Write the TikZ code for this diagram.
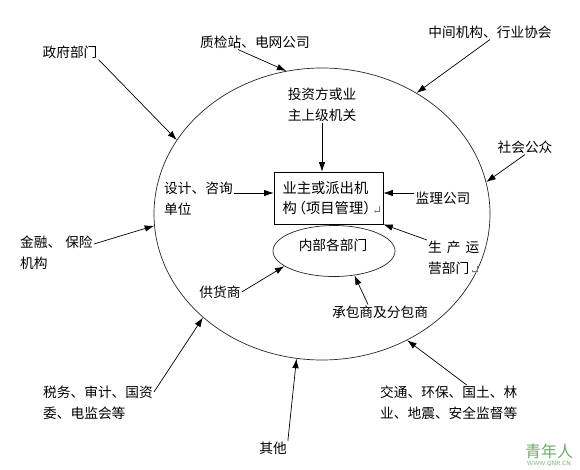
\documentclass[tikz,border=0pt]{standalone}
\usepackage{fontspec}
\setmainfont{Noto Sans CJK SC}
\usetikzlibrary{shapes.geometric,arrows.meta}
\definecolor{markgray}{RGB}{120,120,120}
\definecolor{qnrgreen}{RGB}{110,170,110}
\newcommand\retmark{\,\tikz[x=1pt,y=1pt,baseline=0pt]\draw[markgray,line width=0.5pt,-{To[length=1.5pt,width=3pt]}] (5,7) -- (5,2) -- (0,2);}

\begin{document}
\begin{tikzpicture}[x=1pt, y=-1pt,
        every node/.style={font=\fontsize{13.7}{20.5}\selectfont, inner sep=1pt},
        lbl/.style={align=left},
        arr/.style={-{Latex[length=9.5pt,width=6.5pt]}, line width=0.7pt},
        ring/.style={ellipse, draw=black!85, line width=0.7pt, inner sep=0pt}]
    \useasboundingbox (0,0) rectangle (580,470);
    \node[ring, minimum width=336pt, minimum height=292pt] (outer) at (322,214) {};
    \node[ring, minimum width=122pt, minimum height=51pt] (inner) at (334,251) {};
    \node (dept) at (333,245) {内部各部门};
    \node[draw, line width=0.7pt, minimum width=109pt, minimum height=52pt, text width=92pt,
          align=left, inner sep=0pt, font=\fontsize{14.3}{20}\selectfont] (box) at (328.5,198)
         {业主或派出机\\构\kern-5pt（项目管理）\kern-6pt\rlap{\retmark}};
    \coordinate (bw) at ([yshift=5pt]box.west);
    \coordinate (be) at ([yshift=5pt]box.east);

    \node (gov) at (70,52) {政府部门};
    \node (qc) at (255,42) {质检站、电网公司};
    \node (mid) at (490,32) {中间机构、行业协会};
    \node (pub) at (525,147) {社会公众};
    \node[lbl] (inv) at (322,105) {投资方或业\\主上级机关};
    \node[lbl, anchor=west] (design) at (163,199) {设计、咨询\\单位};
    \node (supv) at (443,198) {监理公司};
    \node[lbl, anchor=north west] (prod) at (427,240) {生\hspace{5pt}产\hspace{5pt}运\\营部门\retmark};
    \node[lbl, anchor=north west] (fin) at (19,235) {金融、\hspace{4pt}保险\\机构};
    \node (vendor) at (220,292) {供货商};
    \node (contr) at (380,312) {承包商及分包商};
    \node[lbl, anchor=north west] (tax) at (42,385) {税务、审计、国资\\委、电监会等};
    \node (other) at (273,448) {其他};
    \node[lbl, anchor=north west] (traffic) at (379,385) {交通、环保、国土、林\\业、地震、安全监督等};
    \node[font=\fontsize{16}{16}\selectfont, text=qnrgreen] (qnr) at (549,451) {青年人};
    \node[font=\fontsize{6}{6}\selectfont\sffamily, text=qnrgreen] (qnrurl) at (549,464) {WWW.QNR.CN};

    \draw[arr] (gov.south east) -- (outer.153);
    \draw[arr] ([xshift=-17pt]qc.south) -- (outer.104);
    \draw[arr] (mid.south) -- (outer.52);
    \draw[arr] (pub.south) -- (outer.11);
    \draw[arr] ([yshift=-9pt]fin.north east) -- (outer.184);
    \draw[arr] ([yshift=-7pt]tax.north east) -- (outer.221);
    \draw[arr] (other.north east) -- (outer.260);
    \draw[arr] ([xshift=18pt]traffic.north) -- (outer.304);
    \draw[arr] (inv.south) -- (inv.south |- box.north);
    \draw[arr] (design.east |- bw) -- (bw);
    \draw[arr] (supv.west |- be) -- (be);
    \draw[arr] (prod.north west) -- (box.south east);
    \draw[arr] (vendor.east) -- (inner.197);
    \draw[arr] ([xshift=-12pt]contr.north) -- (inner.310);
\end{tikzpicture}
\end{document}
